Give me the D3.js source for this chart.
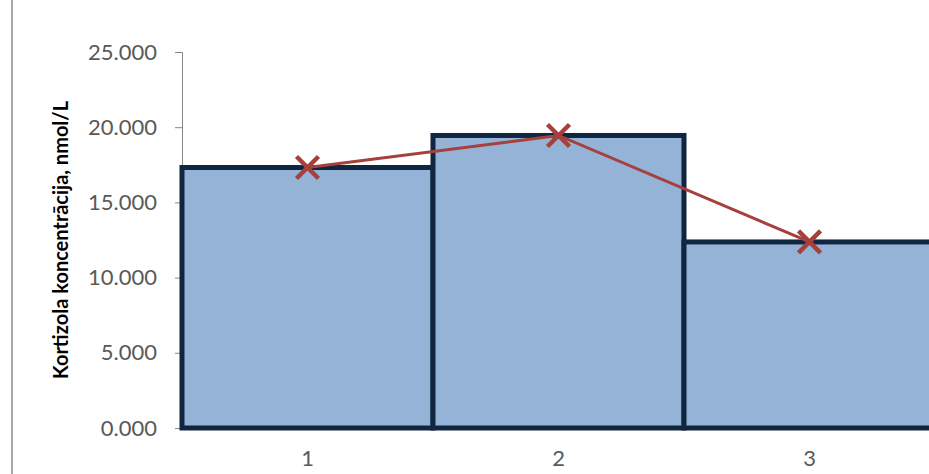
<!DOCTYPE html>
<html lang="lv">
<head>
<meta charset="utf-8" />
<title>Kortizola koncentrācija</title>
<script src="https://d3js.org/d3.v7.min.js"></script>
<style>
    body { margin: 0; background: #fff; }
    svg { display: block; }
    .tick text { font-family: Lato, "Open Sans", sans-serif; fill: #595959; }
</style>
</head>
<body>
<script>
// chart data
const categories = ["1", "2", "3"];
const barValues = [17.32, 19.45, 12.37];
const lineValues = [17.32, 19.45, 12.37];
const yTicks = [0, 5, 10, 15, 20, 25];

const width = 929, height = 474;
const plotLeft = 182, plotTop = 52, plotBottom = 428;
const bandW = 251;

const svg = d3.select("body").append("svg")
    .attr("width", width)
    .attr("height", height);

// left border of the chart frame
svg.append("line")
    .attr("x1", 12).attr("x2", 12)
    .attr("y1", 0).attr("y2", height)
    .attr("stroke", "#a6a6a6")
    .attr("stroke-width", 2);

const x = d3.scaleBand()
    .domain(categories)
    .range([plotLeft, plotLeft + bandW * categories.length])
    .padding(0);

const y = d3.scaleLinear()
    .domain([0, 25])
    .range([plotBottom, plotTop]);

// y axis
const yAxis = svg.append("g")
    .attr("transform", `translate(${plotLeft},0)`)
    .call(d3.axisLeft(y)
        .tickValues(yTicks)
        .tickFormat(d3.format(".3f"))
        .tickSize(7)
        .tickPadding(18));
yAxis.selectAll("path, line").attr("stroke", "#868686");
yAxis.selectAll("text").attr("font-size", 22);

// bars
svg.selectAll("rect.bar")
    .data(barValues)
    .enter()
    .append("rect")
    .attr("class", "bar")
    .attr("x", (d, i) => x(categories[i]))
    .attr("y", d => y(d))
    .attr("width", x.bandwidth())
    .attr("height", d => y(0) - y(d))
    .attr("fill", "#95b3d7")
    .attr("stroke", "#10253f")
    .attr("stroke-width", 5);

// x axis labels
const xAxis = svg.append("g")
    .attr("transform", `translate(0,${plotBottom})`)
    .call(d3.axisBottom(x).tickSize(0).tickPadding(22));
xAxis.select("path").remove();
xAxis.selectAll("text").attr("font-size", 22);

// line series
const cx = (d, i) => x(categories[i]) + x.bandwidth() / 2;
svg.append("path")
    .datum(lineValues)
    .attr("fill", "none")
    .attr("stroke", "#a5403d")
    .attr("stroke-width", 3)
    .attr("d", d3.line().x(cx).y(d => y(d)));

// X markers
const m = 11;
svg.selectAll("path.marker")
    .data(lineValues)
    .enter()
    .append("path")
    .attr("class", "marker")
    .attr("d", (d, i) => {
        const px = cx(d, i), py = y(d);
        return `M${px - m},${py - m}L${px + m},${py + m}M${px - m},${py + m}L${px + m},${py - m}`;
    })
    .attr("stroke", "#a5403d")
    .attr("stroke-width", 4.5)
    .attr("fill", "none");

// y axis title
svg.append("text")
    .attr("transform", `translate(68,${(plotTop + plotBottom) / 2}) rotate(-90)`)
    .attr("text-anchor", "middle")
    .attr("font-family", "Lato, 'Open Sans', sans-serif")
    .attr("font-weight", "bold")
    .attr("font-size", 20)
    .attr("fill", "#000")
    .text("Kortizola koncentrācija, nmol/L");
</script>
</body>
</html>
